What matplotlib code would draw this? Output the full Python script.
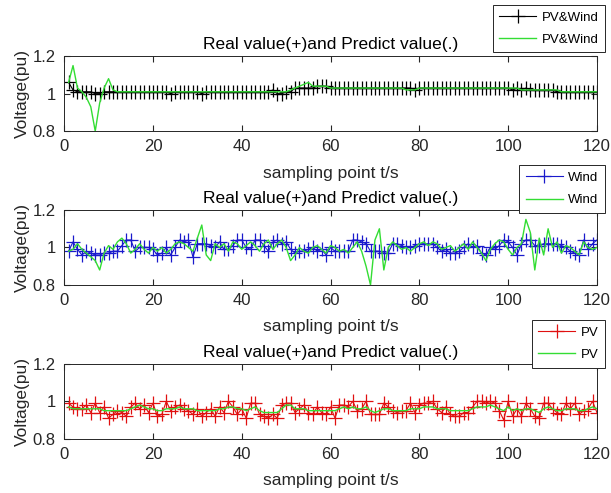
import numpy as np
import matplotlib
matplotlib.use("Agg")
import matplotlib.pyplot as plt

plt.rcParams['font.family'] = ['Liberation Sans', 'DejaVu Sans']

t = np.arange(1, 121)

# PV & Wind
mix_real = [1.06, 1.02, 1.01, 1.01, 1.01, 1.01, 1.00, 1.00, 1.01, 1.01,
            1.01, 1.01, 1.01, 1.01, 1.01, 1.01, 1.01, 1.01, 1.01, 1.01,
            1.01, 1.01, 1.01, 1.00, 1.01, 1.01, 1.01, 1.01, 1.01, 1.01,
            1.00, 1.01, 1.01, 1.01, 1.01, 1.01, 1.01, 1.01, 1.01, 1.01,
            1.01, 1.01, 1.01, 1.01, 1.01, 1.01, 1.02, 1.00, 1.00, 1.01,
            1.01, 1.03, 1.03, 1.03, 1.03, 1.03, 1.04, 1.04, 1.04, 1.03,
            1.03, 1.03, 1.03, 1.03, 1.03, 1.03, 1.03, 1.03, 1.03, 1.03,
            1.03, 1.03, 1.03, 1.03, 1.03, 1.03, 1.03, 1.03, 1.02, 1.03,
            1.03, 1.03, 1.03, 1.03, 1.03, 1.03, 1.03, 1.03, 1.03, 1.03,
            1.03, 1.03, 1.03, 1.03, 1.03, 1.03, 1.03, 1.03, 1.03, 1.03,
            1.02, 1.03, 1.02, 1.03, 1.02, 1.02, 1.02, 1.02, 1.02, 1.02,
            1.01, 1.01, 1.01, 1.01, 1.01, 1.01, 1.01, 1.01, 1.01, 1.01]
mix_pred = [1.06, 1.15, 1.03, 1.01, 0.98, 0.93, 0.80, 0.95, 1.03, 1.08,
            1.02, 1.01, 1.01, 1.01, 1.01, 1.01, 1.01, 1.01, 1.01, 1.01,
            1.01, 1.01, 1.01, 1.01, 1.01, 1.01, 1.01, 1.01, 1.01, 1.01,
            1.01, 1.01, 1.01, 1.01, 1.01, 1.01, 1.01, 1.01, 1.01, 1.01,
            1.01, 1.01, 1.01, 1.01, 1.01, 1.01, 1.01, 1.01, 1.01, 1.01,
            1.02, 1.03, 1.04, 1.05, 1.06, 1.04, 1.04, 1.04, 1.04, 1.03,
            1.03, 1.03, 1.03, 1.03, 1.03, 1.03, 1.03, 1.03, 1.03, 1.03,
            1.03, 1.03, 1.03, 1.03, 1.03, 1.03, 1.02, 1.02, 1.02, 1.03,
            1.03, 1.03, 1.03, 1.03, 1.03, 1.03, 1.03, 1.03, 1.03, 1.03,
            1.03, 1.03, 1.03, 1.03, 1.03, 1.03, 1.03, 1.03, 1.03, 1.03,
            1.03, 1.03, 1.02, 1.02, 1.02, 1.02, 1.02, 1.02, 1.02, 1.02,
            1.02, 1.01, 1.01, 1.01, 1.01, 1.01, 1.01, 1.01, 1.01, 1.01]

# Wind
wind_real = [0.98, 1.03, 0.99, 0.96, 0.98, 0.97, 0.96, 0.96, 0.97, 0.97,
             0.98, 0.98, 1.01, 1.04, 1.04, 0.98, 1.00, 1.00, 1.00, 0.99,
             0.96, 0.97, 1.00, 0.96, 1.00, 1.04, 1.03, 1.04, 0.95, 1.02,
             1.02, 1.02, 1.01, 1.00, 1.03, 0.99, 0.99, 1.01, 1.04, 1.04,
             1.00, 0.99, 1.04, 1.04, 1.01, 0.98, 1.03, 1.04, 1.02, 1.03,
             0.99, 0.97, 0.98, 0.98, 0.99, 1.00, 0.98, 0.99, 0.96, 1.00,
             0.98, 0.98, 0.98, 0.98, 1.04, 1.04, 1.03, 1.02, 0.98, 0.98,
             0.98, 0.97, 0.97, 1.02, 1.02, 1.01, 1.00, 1.00, 1.01, 1.02,
             1.02, 1.02, 1.02, 1.00, 0.98, 0.99, 0.97, 0.97, 0.98, 1.00,
             1.02, 1.00, 1.01, 0.97, 0.96, 1.00, 0.99, 1.01, 1.04, 1.03,
             1.00, 0.96, 1.02, 1.04, 1.04, 1.01, 1.01, 1.02, 1.02, 1.02,
             1.02, 1.01, 1.00, 0.98, 0.97, 0.96, 1.04, 0.99, 1.02, 1.04]
wind_pred = [0.98, 0.99, 1.02, 0.99, 0.97, 0.95, 0.93, 0.88, 0.97, 1.01,
             0.99, 1.03, 1.05, 1.02, 0.97, 0.99, 1.02, 0.99, 0.97, 1.00,
             0.98, 1.00, 0.97, 0.99, 1.02, 1.03, 1.02, 1.00, 0.98, 1.05,
             1.12, 0.96, 0.93, 1.02, 1.00, 1.02, 0.98, 1.03, 1.02, 0.99,
             1.01, 1.03, 1.01, 0.98, 1.02, 1.04, 0.99, 1.02, 1.04, 1.00,
             0.93, 0.96, 1.00, 0.98, 0.97, 1.00, 1.01, 0.99, 0.97, 1.01,
             1.00, 0.98, 0.99, 0.97, 1.00, 1.03, 0.98, 0.90, 0.80, 1.04,
             1.10, 0.88, 1.00, 1.03, 1.01, 0.99, 1.00, 0.98, 1.00, 1.02,
             1.03, 1.01, 1.03, 1.02, 0.99, 1.00, 1.01, 0.98, 1.00, 1.02,
             0.99, 1.03, 1.00, 0.97, 0.93, 0.99, 1.02, 1.04, 1.03, 0.99,
             0.96, 1.00, 1.02, 1.15, 1.08, 0.88, 1.05, 0.96, 1.10, 1.00,
             1.03, 0.97, 1.01, 1.00, 0.98, 0.96, 1.03, 1.00, 0.99, 1.00]

# PV
pv_real = [0.99, 0.97, 0.96, 0.96, 0.98, 0.94, 0.99, 0.94, 0.97, 0.91,
           0.93, 0.95, 0.94, 0.92, 0.97, 0.99, 0.96, 0.98, 0.94, 0.99,
           0.92, 0.93, 1.00, 0.95, 0.97, 0.98, 0.96, 0.95, 0.93, 0.96,
           0.92, 0.94, 0.96, 0.92, 0.97, 0.94, 1.00, 0.97, 0.93, 0.96,
           0.91, 0.99, 0.99, 0.93, 0.92, 0.91, 0.93, 0.91, 0.98, 0.99,
           0.99, 0.94, 0.96, 0.98, 0.94, 0.93, 0.97, 0.94, 0.93, 0.97,
           0.91, 0.98, 0.98, 0.97, 1.00, 0.95, 0.96, 1.00, 0.93, 0.93,
           0.93, 0.99, 0.97, 0.95, 0.94, 0.95, 0.95, 0.99, 0.94, 0.98,
           0.99, 0.99, 1.00, 0.96, 0.94, 0.97, 0.93, 0.92, 0.92, 0.94,
           0.94, 0.97, 1.00, 1.00, 0.99, 1.00, 0.99, 0.95, 0.90, 1.00,
           0.92, 0.96, 0.92, 0.99, 0.96, 0.92, 0.91, 0.99, 0.99, 0.96,
           0.94, 0.93, 0.99, 0.96, 0.99, 0.93, 0.95, 0.96, 1.00, 0.94]
pv_pred = [0.97, 0.96, 0.96, 0.96, 0.96, 0.96, 0.96, 0.96, 0.95, 0.95,
           0.95, 0.95, 0.95, 0.95, 0.96, 0.97, 0.98, 0.97, 0.96, 0.96,
           0.95, 0.95, 0.96, 0.96, 0.96, 0.97, 0.96, 0.96, 0.96, 0.95,
           0.95, 0.95, 0.95, 0.95, 0.96, 0.96, 0.97, 0.97, 0.96, 0.96,
           0.95, 0.96, 0.97, 0.95, 0.94, 0.94, 0.94, 0.94, 0.96, 0.98,
           0.98, 0.96, 0.96, 0.96, 0.95, 0.95, 0.95, 0.95, 0.95, 0.95,
           0.95, 0.96, 0.97, 0.96, 0.97, 0.96, 0.96, 0.97, 0.95, 0.94,
           0.95, 0.96, 0.96, 0.95, 0.95, 0.95, 0.95, 0.96, 0.96, 0.96,
           0.97, 0.97, 0.97, 0.96, 0.96, 0.96, 0.95, 0.95, 0.95, 0.95,
           0.95, 0.96, 0.97, 0.97, 0.97, 0.98, 0.97, 0.96, 0.95, 0.97,
           0.95, 0.96, 0.95, 0.96, 0.96, 0.95, 0.94, 0.96, 0.97, 0.96,
           0.95, 0.95, 0.96, 0.96, 0.96, 0.95, 0.95, 0.96, 0.97, 0.96]

panels = [
    (mix_real, mix_pred, 'black', 'PV&Wind', [0.734, 0.990]),
    (wind_real, wind_pred, '#1a1acc', 'Wind', [0.422, 0.665]),
    (pv_real, pv_pred, '#e01010', 'PV', [0.110, 0.351]),
]

fig = plt.figure(figsize=(6.11, 4.93), dpi=100)
txt = '#262626'

for real, pred, color, name, (bottom, leg_top) in panels:
    ax = fig.add_axes([0.105, bottom, 0.872, 0.152])
    ax.plot(t, real, color=color, marker='+', markersize=10, linewidth=0.8,
            markeredgewidth=0.9, label=name)
    ax.plot(t, pred, color='#33dd33', linewidth=1.0, label=name)
    ax.set_xlim(0, 120)
    ax.set_ylim(0.8, 1.2)
    ax.set_xticks(np.arange(0, 121, 20))
    ax.set_yticks([0.8, 1.0, 1.2])
    ax.set_yticklabels(['0.8', '1', '1.2'])
    ax.tick_params(direction='in', top=True, right=True, length=4,
                   labelsize=12, colors=txt, pad=6)
    for s in ax.spines.values():
        s.set_color(txt)
        s.set_linewidth(0.7)
    ax.set_title('Real value(+)and Predict value(.)', fontsize=12.5, color='black', pad=5)
    ax.set_xlabel('sampling point t/s', fontsize=12.5, color=txt, labelpad=8)
    ax.set_ylabel('Voltage(pu)', fontsize=12.5, color=txt, labelpad=2)
    leg = ax.legend(loc='upper right', bbox_to_anchor=(0.990, leg_top),
                    bbox_transform=fig.transFigure, fontsize=9.5, frameon=True,
                    fancybox=False, framealpha=1, edgecolor=txt,
                    handlelength=2.8, handletextpad=0.4, borderpad=0.5,
                    labelspacing=0.75, borderaxespad=0)
    leg.get_frame().set_linewidth(0.7)

fig.savefig('out.png', dpi=100)
